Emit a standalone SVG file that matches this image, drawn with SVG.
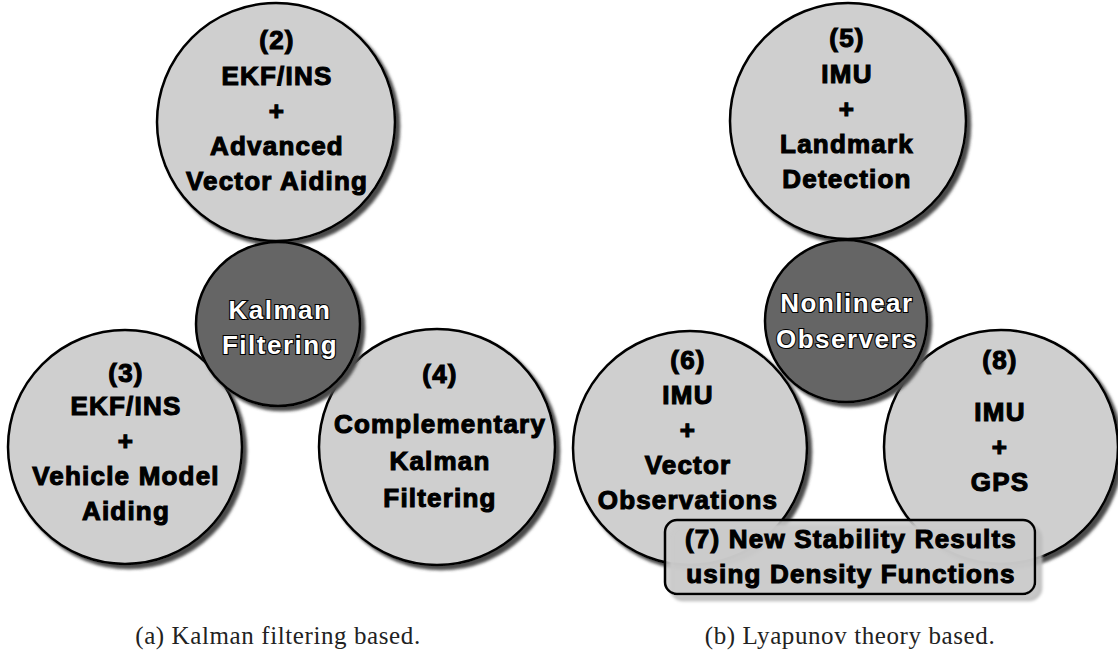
<svg xmlns="http://www.w3.org/2000/svg" width="1118" height="657" viewBox="0 0 1118 657">
  <defs>
    <filter id="shadow" x="-10%" y="-10%" width="125%" height="125%">
      <feGaussianBlur in="SourceAlpha" stdDeviation="1.5" result="b"/>
      <feOffset in="b" dx="4" dy="4" result="o"/>
      <feFlood flood-color="#4a4a4a"/>
      <feComposite in2="o" operator="in" result="s"/>
      <feMerge><feMergeNode in="s"/><feMergeNode in="SourceGraphic"/></feMerge>
    </filter>
    <filter id="boxshadow" x="-5%" y="-10%" width="112%" height="130%">
      <feGaussianBlur in="SourceAlpha" stdDeviation="1.5" result="b"/>
      <feOffset in="b" dx="6" dy="6" result="o"/>
      <feFlood flood-color="#bdbdbd"/>
      <feComposite in2="o" operator="in" result="s"/>
      <feMerge><feMergeNode in="s"/><feMergeNode in="SourceGraphic"/></feMerge>
    </filter>
  </defs>
  <style>
    .outer { fill: #cfcfcf; stroke: #000; stroke-width: 2.5; filter: url(#shadow); }
    .core { fill: #656565; stroke: #000; stroke-width: 2.5; filter: url(#shadow); }
    .lbl { font-family: "Liberation Sans", Arial, sans-serif; font-weight: bold; font-size: 26px; letter-spacing: 1.2px; fill: #000; stroke: #000; stroke-width: 1.1; text-anchor: middle; }
    .clbl { font-family: "Liberation Sans", Arial, sans-serif; font-weight: bold; font-size: 26px; letter-spacing: 1.5px; fill: #fff; stroke: #000; stroke-width: 2.2; paint-order: stroke; text-anchor: middle; }
    .box { fill: #cdcdcd; fill-opacity: 0.85; stroke: #000; stroke-width: 2.5; filter: url(#boxshadow); }
    .cap { font-family: "Liberation Serif", "Times New Roman", serif; font-size: 25px; letter-spacing: 0.6px; fill: #222; text-anchor: middle; }
  </style>

  <rect width="1118" height="657" fill="#fff"/>

  <!-- (a) Kalman filtering based -->
  <g id="node-2">
    <circle class="outer" cx="276" cy="122" r="119"/>
    <text class="lbl" x="277" y="49">(2)</text>
    <text class="lbl" x="277" y="85">EKF/INS</text>
    <text class="lbl" x="277" y="120">+</text>
    <text class="lbl" x="277" y="155">Advanced</text>
    <text class="lbl" x="277" y="190">Vector Aiding</text>
  </g>
  <g id="node-3">
    <circle class="outer" cx="125" cy="447" r="117"/>
    <text class="lbl" x="126" y="382">(3)</text>
    <text class="lbl" x="126" y="415">EKF/INS</text>
    <text class="lbl" x="126" y="450">+</text>
    <text class="lbl" x="126" y="485">Vehicle Model</text>
    <text class="lbl" x="126" y="520">Aiding</text>
  </g>
  <g id="node-4">
    <circle class="outer" cx="437" cy="447" r="118"/>
    <text class="lbl" x="440" y="383">(4)</text>
    <text class="lbl" x="440" y="433">Complementary</text>
    <text class="lbl" x="440" y="470">Kalman</text>
    <text class="lbl" x="440" y="507">Filtering</text>
  </g>
  <g id="node-kalman">
    <circle class="core" cx="278" cy="324" r="82"/>
    <text class="clbl" x="280" y="319">Kalman</text>
    <text class="clbl" x="280" y="354">Filtering</text>
  </g>

  <!-- (b) Lyapunov theory based -->
  <g id="node-5">
    <circle class="outer" cx="848" cy="121" r="118"/>
    <text class="lbl" x="847" y="47">(5)</text>
    <text class="lbl" x="847" y="83">IMU</text>
    <text class="lbl" x="847" y="118">+</text>
    <text class="lbl" x="847" y="153">Landmark</text>
    <text class="lbl" x="847" y="188">Detection</text>
  </g>
  <g id="node-6">
    <circle class="outer" cx="690" cy="448" r="117"/>
    <text class="lbl" x="688" y="369">(6)</text>
    <text class="lbl" x="688" y="404">IMU</text>
    <text class="lbl" x="688" y="439">+</text>
    <text class="lbl" x="688" y="474">Vector</text>
    <text class="lbl" x="688" y="509">Observations</text>
  </g>
  <g id="node-8">
    <circle class="outer" cx="1001" cy="447" r="117"/>
    <text class="lbl" x="1000" y="369">(8)</text>
    <text class="lbl" x="1000" y="421">IMU</text>
    <text class="lbl" x="1000" y="456">+</text>
    <text class="lbl" x="1000" y="491">GPS</text>
  </g>
  <g id="node-nonlinear">
    <circle class="core" cx="846" cy="321" r="81"/>
    <text class="clbl" x="847" y="312">Nonlinear</text>
    <text class="clbl" x="847" y="348">Observers</text>
  </g>
  <g id="node-7">
    <rect class="box" x="665" y="520" width="370" height="74" rx="12" ry="12"/>
    <text class="lbl" x="851" y="548">(7) New Stability Results</text>
    <text class="lbl" x="851" y="583">using Density Functions</text>
  </g>

  <g id="connectors"/>

  <text class="cap" x="278" y="644">(a) Kalman filtering based.</text>
  <text class="cap" x="850" y="644">(b) Lyapunov theory based.</text>
</svg>
